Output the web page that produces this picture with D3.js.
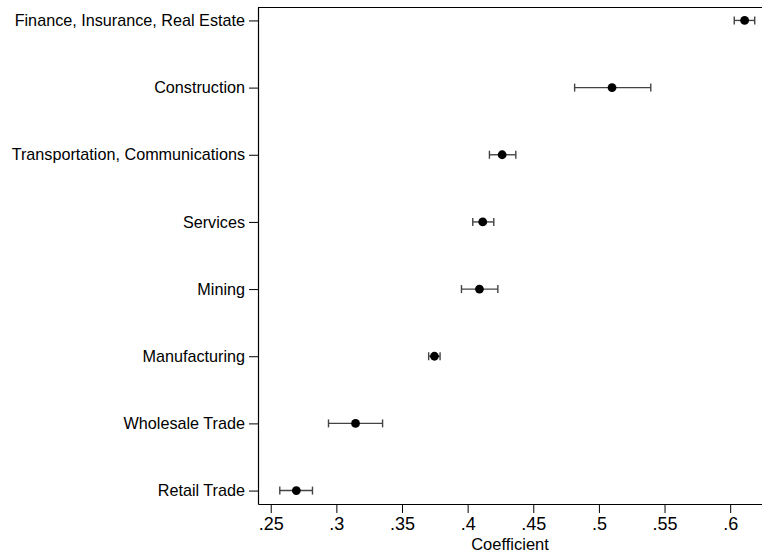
<!DOCTYPE html>
<html>
<head>
<meta charset="utf-8">
<script src="https://cdn.jsdelivr.net/npm/d3@7"></script>
<style>
  html, body { margin: 0; padding: 0; background: #fff; }
  svg { display: block; font-family: "Liberation Sans", Arial, sans-serif; }
</style>
</head>
<body>
<svg id="chart" width="762" height="553"></svg>
<script>
// Industry coefficients with 95% confidence intervals (bottom to top)
const industries = [
  "Retail Trade",
  "Wholesale Trade",
  "Manufacturing",
  "Mining",
  "Services",
  "Transportation, Communications",
  "Construction",
  "Finance, Insurance, Real Estate"
];
const coefficients = [0.2695, 0.3146, 0.3747, 0.4090, 0.4115, 0.4263, 0.5100, 0.6110];
const ciLower      = [0.2569, 0.2940, 0.3703, 0.3953, 0.4039, 0.4166, 0.4815, 0.6031];
const ciUpper      = [0.2818, 0.3352, 0.3790, 0.4230, 0.4199, 0.4367, 0.5395, 0.6187];
const xTicks = [0.25, 0.3, 0.35, 0.4, 0.45, 0.5, 0.55, 0.6];
const xTickLabels = [".25", ".3", ".35", ".4", ".45", ".5", ".55", ".6"];
const xTitle = "Coefficient";

const rows = industries.map((name, i) => ({
  name, pos: i + 1, b: coefficients[i], lo: ciLower[i], hi: ciUpper[i]
}));

const svg = d3.select("#chart");
const plotL = 258, plotR = 763, plotT = 7, plotB = 504;

const x = d3.scaleLinear().domain([0.2403, 0.6250]).range([plotL, plotR]);
const y = d3.scaleLinear().domain([0.8, 8.2]).range([plotB, plotT]);

// Plot region outline along the top
svg.append("line").attr("x1", plotL).attr("x2", plotR).attr("y1", plotT + 0.5).attr("y2", plotT + 0.5)
  .attr("stroke", "#000").attr("stroke-width", 1);

// X axis
const xAxis = d3.axisBottom(x)
  .tickValues(xTicks)
  .tickFormat((d, i) => xTickLabels[i])
  .tickSize(9)
  .tickPadding(4)
  .tickSizeOuter(0);
const gx = svg.append("g").attr("transform", `translate(0,${plotB})`).call(xAxis);
gx.select(".domain").attr("stroke", "#000").attr("stroke-width", 1.2);
gx.selectAll(".tick line").attr("stroke", "#000").attr("stroke-width", 1);
gx.selectAll(".tick text").attr("font-size", 18).attr("fill", "#000")
  .attr("font-family", "Liberation Sans, Arial, sans-serif");

// Y axis with category labels
const yAxis = d3.axisLeft(y)
  .tickValues(rows.map(r => r.pos))
  .tickFormat((d) => industries[d - 1])
  .tickSize(9)
  .tickPadding(4)
  .tickSizeOuter(0);
const gy = svg.append("g").attr("transform", `translate(${plotL},0)`).call(yAxis);
gy.select(".domain").attr("stroke", "#000").attr("stroke-width", 1.2);
gy.selectAll(".tick line").attr("stroke", "#000").attr("stroke-width", 1);
gy.selectAll(".tick text").attr("font-size", 16.2).attr("fill", "#000")
  .attr("font-family", "Liberation Sans, Arial, sans-serif");

// Axis title
svg.append("text")
  .attr("x", (plotL + 762) / 2)
  .attr("y", 550)
  .attr("text-anchor", "middle")
  .attr("font-size", 16.5)
  .attr("fill", "#000")
  .text(xTitle);

// Confidence intervals
const ci = svg.append("g").attr("stroke", "#444").attr("stroke-width", 1.4).attr("fill", "none");
const capH = 4;
rows.forEach(r => {
  const yy = y(r.pos);
  ci.append("line").attr("x1", x(r.lo)).attr("x2", x(r.hi)).attr("y1", yy).attr("y2", yy);
  ci.append("line").attr("x1", x(r.lo)).attr("x2", x(r.lo)).attr("y1", yy - capH).attr("y2", yy + capH);
  ci.append("line").attr("x1", x(r.hi)).attr("x2", x(r.hi)).attr("y1", yy - capH).attr("y2", yy + capH);
});

// Point estimates
svg.append("g").selectAll("circle")
  .data(rows)
  .join("circle")
  .attr("cx", d => x(d.b))
  .attr("cy", d => y(d.pos))
  .attr("r", 4.4)
  .attr("fill", "#000");
</script>
</body>
</html>
